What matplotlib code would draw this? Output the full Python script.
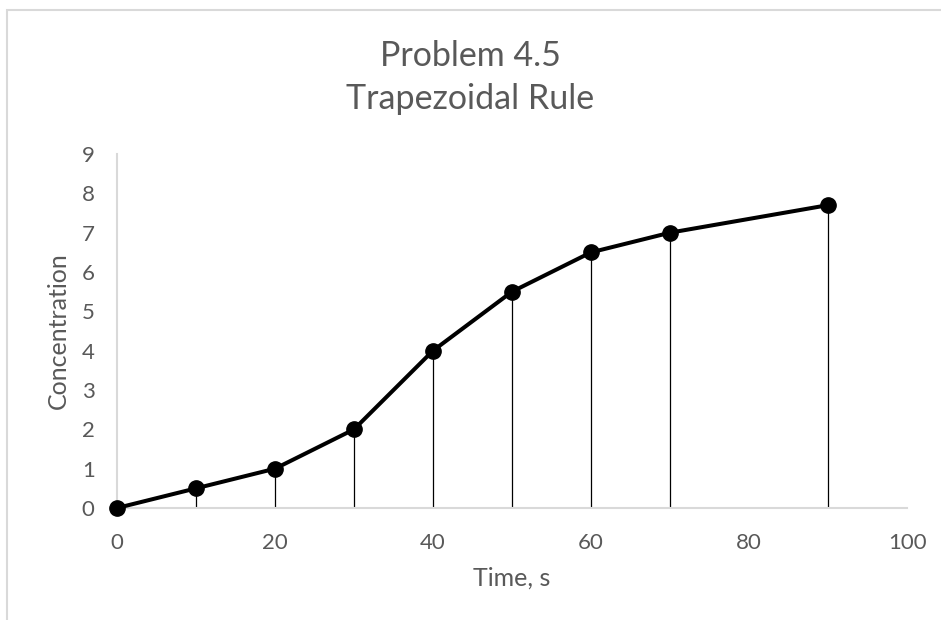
import matplotlib.pyplot as plt
from matplotlib.patches import Rectangle

# data
time_s = [0, 10, 20, 30, 40, 50, 60, 70, 90]
concentration = [0, 0.5, 1, 2, 4, 5.5, 6.5, 7, 7.7]
x_ticks = [0, 20, 40, 60, 80, 100]
y_ticks = [0, 1, 2, 3, 4, 5, 6, 7, 8, 9]

text_gray = "#595959"
axis_gray = "#d9d9d9"

plt.rcParams["font.family"] = ["Lato", "DejaVu Sans"]

fig = plt.figure(figsize=(9.41, 6.2), dpi=100)
ax = fig.add_axes([0.1243, 0.1806, 0.8396, 0.5710])

# outer chart border (only top / left visible in the reference)
fig.patches.append(Rectangle((7 / 941, -0.1), 1.2, 1 - 10 / 620 + 0.1,
                             transform=fig.transFigure, fill=False,
                             edgecolor=axis_gray, linewidth=1.5))

ax.vlines(time_s, 0, concentration, color="black", linewidth=0.9, zorder=2)
ax.plot(time_s, concentration, color="black", linewidth=2.9, marker="o",
        markersize=11, clip_on=False, zorder=3)

ax.set_xlim(0, 100)
ax.set_ylim(0, 9)
ax.set_xticks(x_ticks)
ax.set_yticks(y_ticks)
ax.tick_params(length=0, labelsize=16, labelcolor=text_gray)
ax.tick_params(axis="x", pad=18)
ax.tick_params(axis="y", pad=16)

for side in ["top", "right"]:
    ax.spines[side].set_visible(False)
for side in ["left", "bottom"]:
    ax.spines[side].set_color(axis_gray)
    ax.spines[side].set_linewidth(1.5)

ax.set_xlabel("Time, s", fontsize=18, color=text_gray, va="center")
ax.set_ylabel("Concentration", fontsize=18, color=text_gray, va="center")
ax.xaxis.set_label_coords(0.5, -0.198)
ax.yaxis.set_label_coords(-0.0747, 0.5)

fig.text(0.5, 1 - 56 / 620, "Problem 4.5", fontsize=24.5, color=text_gray,
         ha="center", va="center")
fig.text(0.5, 1 - 99 / 620, "Trapezoidal Rule", fontsize=24.5, color=text_gray,
         ha="center", va="center")

fig.savefig("out.png", dpi=100)
